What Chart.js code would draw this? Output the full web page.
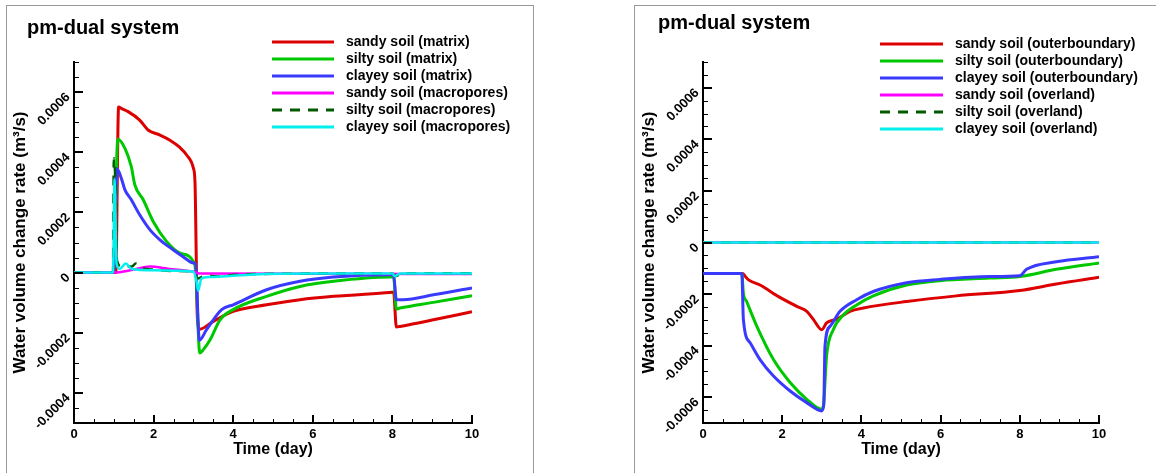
<!DOCTYPE html>
<html>
<head>
<meta charset="utf-8">
<script src="https://cdn.jsdelivr.net/npm/chart.js@4.4.1/dist/chart.umd.min.js"></script>
<style>
  body { margin: 0; width: 1156px; height: 473px; background: #fff; position: relative; overflow: hidden; }
  .frame { position: absolute; border: 1px solid #999; }
  canvas { position: absolute; top: 0; }
</style>
</head>
<body>
<div class="frame" style="left:6px;top:5px;width:526px;height:480px;"></div>
<div class="frame" style="left:634px;top:5px;width:540px;height:480px;"></div>
<canvas id="leftChart" width="578" height="473" style="left:0"></canvas>
<canvas id="rightChart" width="578" height="473" style="left:578px"></canvas>
<script>
// --- left panel: matrix / macropores (time in days, rate in m3/s) ---
const tSandyMatrix = [0, 1.05, 1.12, 1.2, 1.36, 1.65, 1.86, 2.16, 2.4, 2.66, 2.83, 3.0, 3.04, 3.1, 3.16, 3.5, 4.0, 4.84, 5.68, 6.52, 7.94, 8.03, 8.1, 8.19, 9.03, 10];
const vSandyMatrix = [0, 0, 0.00055, 0.000545, 0.000535, 0.000507, 0.000474, 0.000457, 0.000441, 0.000416, 0.000391, 0.000347, 0.0003, -0.00015, -0.000188, -0.000162, -0.000129, -0.000107, -0.00009, -0.000079, -0.000066, -0.000065, -0.000181, -0.000179, -0.000157, -0.00013];

const tSiltyMatrix = [0, 0.99, 1.1, 1.28, 1.44, 1.53, 1.74, 1.99, 2.33, 2.66, 3.0, 3.06, 3.16, 3.25, 3.42, 3.67, 4.0, 4.84, 5.68, 6.52, 7.94, 8.03, 8.1, 8.19, 9.03, 10];
const vSiltyMatrix = [0, 0, 0.000443, 0.000413, 0.000352, 0.000291, 0.000242, 0.00017, 0.000103, 0.000065, 0.000037, 0.0, -0.000267, -0.000256, -0.000223, -0.000157, -0.000123, -0.000079, -0.000046, -0.000029, -0.000015, -0.000015, -0.000121, -0.000118, -0.000099, -0.000077];

const tClayeyMatrix = [0, 0.99, 1.08, 1.19, 1.28, 1.44, 1.65, 1.91, 2.16, 2.49, 2.74, 3.0, 3.05, 3.15, 3.33, 3.71, 4.0, 4.84, 5.68, 6.52, 7.94, 8.03, 8.1, 8.27, 9.03, 10];
const vClayeyMatrix = [0, 0, 0.000345, 0.000313, 0.000275, 0.000242, 0.000192, 0.000142, 0.000109, 0.000076, 0.000053, 0.000032, 0.00003, -0.000225, -0.00019, -0.000123, -0.000107, -0.000057, -0.000029, -0.000015, -0.000007, -0.000008, -0.00009, -0.00009, -0.000074, -0.000051];

const tSandyMacro = [0, 1.0, 1.5, 1.9, 2.4, 3.0, 3.15, 10];
const vSandyMacro = [0, 0, 0.00001, 0.00002, 0.000012, 0.000003, -0.000003, -0.000005];

const tSiltyMacro = [0, 0.98, 1.0, 1.04, 1.08, 1.2, 1.45, 1.55, 1.7, 2.0, 2.5, 3.0, 3.1, 3.3, 3.6, 4.0, 5.0, 8.0, 8.08, 8.25, 10];
const vSiltyMacro = [0, 0, 0.00038, 0.0003, 0.00004, 0.00002, 0.00002, 0.00003, 0.000015, 0.00001, 0.000005, 0.000003, -0.00002, -0.00001, -0.000013, -0.000008, -0.000004, -0.000003, -0.000012, -0.000003, -0.000002];

const tClayeyMacro = [0, 0.98, 1.02, 1.07, 1.15, 1.3, 1.45, 2.0, 3.0, 3.08, 3.12, 3.2, 3.4, 3.8, 4.5, 6.0, 8.0, 8.06, 8.2, 10];
const vClayeyMacro = [0, 0, 0.00031, 0.00003, 0.000012, 0.00003, 0.000012, 0.000008, 0.000003, -0.00003, -0.00006, -0.00002, -0.000015, -0.000012, -0.000006, -0.000003, -0.000003, -0.000012, -0.000003, -0.000003];

// --- right panel: outer boundary / overland ---
const tSandyOuter = [0, 1.0, 1.07, 1.15, 1.44, 1.91, 2.37, 2.62, 2.79, 3.0, 3.12, 3.38, 3.71, 4.05, 5.14, 6.4, 8.0, 8.92, 10];
const vSandyOuter = [-0.00012, -0.00012, -0.000132, -0.000145, -0.000165, -0.00021, -0.000248, -0.000267, -0.000299, -0.000338, -0.000312, -0.000297, -0.000267, -0.000254, -0.000229, -0.000207, -0.000186, -0.000161, -0.000135];

const tSiltyOuter = [0, 0.98, 1.02, 1.1, 1.2, 1.36, 1.78, 2.2, 2.62, 3.0, 3.05, 3.12, 3.29, 3.55, 3.88, 4.3, 5.14, 5.98, 7.24, 8.0, 8.92, 10];
const vSiltyOuter = [-0.00012, -0.00012, -0.000197, -0.000228, -0.000266, -0.000325, -0.000454, -0.000543, -0.000608, -0.000647, -0.00062, -0.000441, -0.000338, -0.00028, -0.000242, -0.000207, -0.000165, -0.000148, -0.000138, -0.000132, -0.000104, -0.000079];

const tClayeyOuter = [0, 0.98, 1.02, 1.19, 1.44, 1.78, 2.2, 2.62, 3.0, 3.05, 3.08, 3.21, 3.46, 3.88, 4.3, 5.14, 5.98, 7.24, 8.0, 8.17, 8.92, 10];
const vClayeyOuter = [-0.00012, -0.00012, -0.000299, -0.000389, -0.000454, -0.000518, -0.000576, -0.000621, -0.000653, -0.00063, -0.000402, -0.000325, -0.000267, -0.000222, -0.00019, -0.000156, -0.000143, -0.000132, -0.000129, -0.000104, -0.000075, -0.000055];

const tOverland = [0, 10];
const vSandyOverland = [0, 0];
const vSiltyOverland = [0, 0];
const vClayeyOverland = [0, 0];

// labels and ticks
const panelTitle = 'pm-dual system';
const labelsLeft = ['sandy soil (matrix)', 'silty soil (matrix)', 'clayey soil (matrix)', 'sandy soil (macropores)', 'silty soil (macropores)', 'clayey soil (macropores)'];
const labelsRight = ['sandy soil (outerboundary)', 'silty soil (outerboundary)', 'clayey soil (outerboundary)', 'sandy soil (overland)', 'silty soil (overland)', 'clayey soil (overland)'];
const xTickLabels = ['0', '2', '4', '6', '8', '10'];
const yTickLabelsLeft = ['-0.0004', '-0.0002', '0', '0.0002', '0.0004', '0.0006'];
const yTickLabelsRight = ['-0.0006', '-0.0004', '-0.0002', '0', '0.0002', '0.0004', '0.0006'];
const xTitle = 'Time (day)';
const yTitle = 'Water volume change rate (m³/s)';

const colors = ['#dd0000', '#00c800', '#3a3aff', '#ff00ff', '#005a00', '#00f0f0'];
const FONT = '"Liberation Sans", Arial, sans-serif';

function pts(ts, vs) {
    return ts.map((t, i) => ({ x: t, y: vs[i] }));
}

function makeSets(labels, series) {
    return series.map((s, i) => ({
        label: labels[i],
        data: pts(s[0], s[1]),
        borderColor: colors[i],
        backgroundColor: colors[i],
        borderWidth: i < 3 ? 3 : 2.5,
        borderDash: i === 4 ? [10, 8] : [],
        pointRadius: 0,
        cubicInterpolationMode: 'monotone',
        order: 6 - i
    }));
}

// draws ticks (inward, Tecplot style), rotated tick labels, titles and legend
const decor = {
    id: 'decor',
    afterDraw(chart, args, o) {
        const ctx = chart.ctx;
        const xs = chart.scales.x, ys = chart.scales.y;
        const a = chart.chartArea;
        ctx.save();
        ctx.strokeStyle = '#000';
        ctx.fillStyle = '#000';

        for (let i = 0; i <= 20; i++) {
            const v = i * 0.5;
            const major = i % 4 === 0;
            const px = Math.round(xs.getPixelForValue(v));
            ctx.lineWidth = major ? 2 : 1;
            ctx.beginPath();
            ctx.moveTo(px + (major ? 0 : 0.5), a.bottom);
            ctx.lineTo(px + (major ? 0 : 0.5), a.bottom - (major ? 8 : 4));
            ctx.stroke();
        }
        const n = Math.round((ys.max - ys.min) / 0.00005);
        for (let i = 0; i <= n; i++) {
            const v = ys.min + i * 0.00005;
            const major = Math.abs(v / 0.0002 - Math.round(v / 0.0002)) < 1e-6;
            const py = Math.round(ys.getPixelForValue(v));
            ctx.lineWidth = major ? 2 : 1;
            ctx.beginPath();
            ctx.moveTo(a.left, py + (major ? 0 : 0.5));
            ctx.lineTo(a.left + (major ? 9 : 5), py + (major ? 0 : 0.5));
            ctx.stroke();
        }

        ctx.font = 'bold 13px ' + FONT;
        ctx.textAlign = 'center';
        ctx.textBaseline = 'alphabetic';
        xTickLabels.forEach(l => {
            ctx.fillText(l, xs.getPixelForValue(parseFloat(l)), a.bottom + 15);
        });
        ctx.textAlign = 'right';
        ctx.textBaseline = 'middle';
        o.yLabels.forEach(l => {
            ctx.save();
            ctx.translate(a.left - 6, ys.getPixelForValue(parseFloat(l)) + 3);
            ctx.rotate(-Math.PI / 4);
            ctx.fillText(l, 0, 0);
            ctx.restore();
        });

        ctx.font = 'bold 16px ' + FONT;
        ctx.textAlign = 'center';
        ctx.textBaseline = 'alphabetic';
        ctx.fillText(xTitle, (a.left + a.right) / 2, a.bottom + 31);
        ctx.font = 'bold 17px ' + FONT;
        ctx.save();
        ctx.translate(a.left - 49, (a.top + a.bottom) / 2);
        ctx.rotate(-Math.PI / 2);
        ctx.fillText(yTitle, 0, 0);
        ctx.restore();

        ctx.font = 'bold 20px ' + FONT;
        ctx.textAlign = 'left';
        ctx.fillText(panelTitle, o.titleX, o.titleY);

        ctx.font = 'bold 14px ' + FONT;
        ctx.textBaseline = 'middle';
        chart.data.datasets.forEach((ds, i) => {
            const y = o.legY + i * o.legDy;
            ctx.strokeStyle = ds.borderColor;
            ctx.lineWidth = 3;
            ctx.setLineDash(ds.borderDash);
            ctx.beginPath();
            ctx.moveTo(o.legX0, y);
            ctx.lineTo(o.legX1, y);
            ctx.stroke();
            ctx.setLineDash([]);
            ctx.fillText(ds.label, o.legText, y);
        });
        ctx.restore();
    }
};

function makeChart(id, datasets, yMin, yMax, pad, deco) {
    return new Chart(document.getElementById(id).getContext('2d'), {
        type: 'line',
        data: { datasets: datasets },
        options: {
            responsive: false,
            animation: false,
            devicePixelRatio: 1,
            layout: { padding: pad },
            scales: {
                x: {
                    type: 'linear', min: 0, max: 10,
                    grid: { display: false, drawTicks: false, tickLength: 0 },
                    ticks: { display: false },
                    border: { display: true, color: '#000', width: 2 }
                },
                y: {
                    type: 'linear', min: yMin, max: yMax,
                    grid: { display: false, drawTicks: false, tickLength: 0 },
                    ticks: { display: false },
                    border: { display: true, color: '#000', width: 2 }
                }
            },
            plugins: {
                legend: { display: false },
                tooltip: { enabled: false },
                decor: deco
            }
        },
        plugins: [decor]
    });
}

document.addEventListener('DOMContentLoaded', function() {
    makeChart('leftChart', makeSets(labelsLeft, [
        [tSandyMatrix, vSandyMatrix],
        [tSiltyMatrix, vSiltyMatrix],
        [tClayeyMatrix, vClayeyMatrix],
        [tSandyMacro, vSandyMacro],
        [tSiltyMacro, vSiltyMacro],
        [tClayeyMacro, vClayeyMacro]
    ]), -0.0005, 0.0007,
    { left: 74, top: 62, right: 106, bottom: 50 },
    { yLabels: yTickLabelsLeft, titleX: 27, titleY: 34, legX0: 272, legX1: 334, legText: 346, legY: 42, legDy: 17 });

    makeChart('rightChart', makeSets(labelsRight, [
        [tSandyOuter, vSandyOuter],
        [tSiltyOuter, vSiltyOuter],
        [tClayeyOuter, vClayeyOuter],
        [tOverland, vSandyOverland],
        [tOverland, vSiltyOverland],
        [tOverland, vClayeyOverland]
    ]), -0.0007, 0.0007,
    { left: 125, top: 62, right: 57, bottom: 50 },
    { yLabels: yTickLabelsRight, titleX: 80, titleY: 29, legX0: 302, legX1: 365, legText: 377, legY: 44, legDy: 17 });
});
</script>
</body>
</html>
